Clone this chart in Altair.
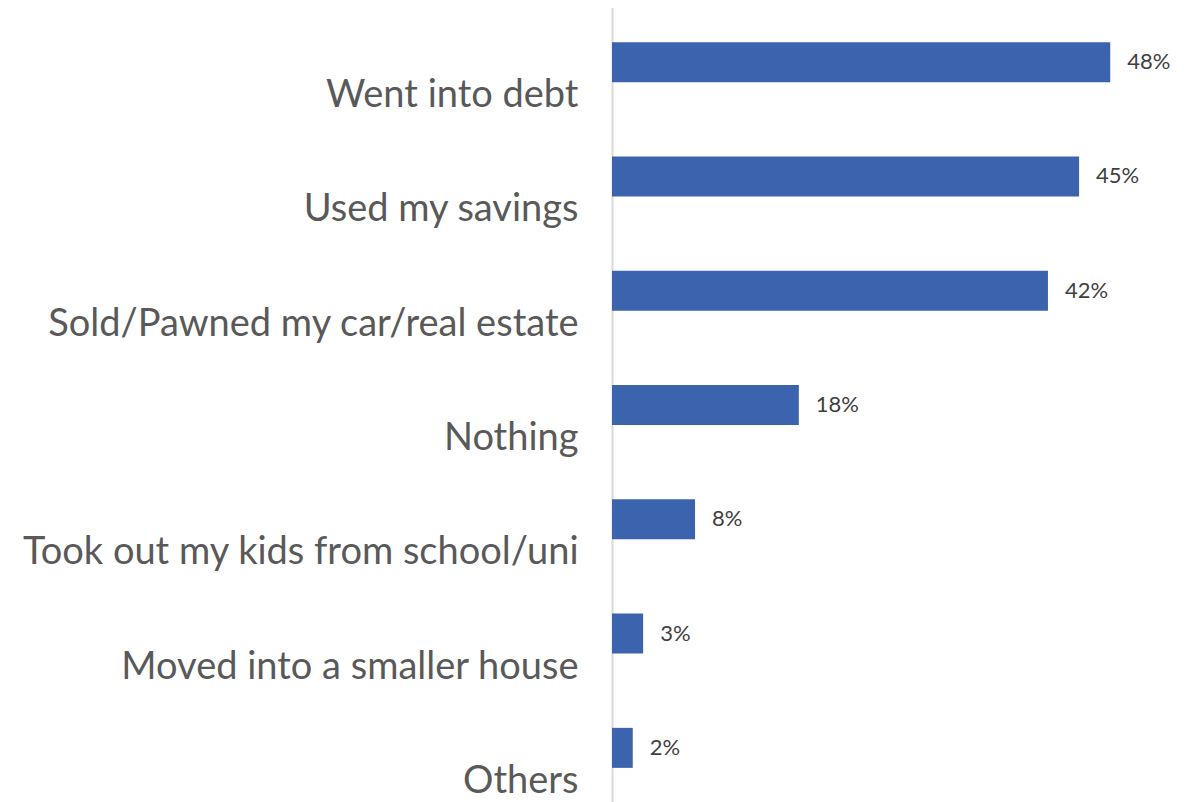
import altair as alt
import pandas as pd

categories = [
    "Went into debt",
    "Used my savings",
    "Sold/Pawned my car/real estate",
    "Nothing",
    "Took out my kids from school/uni",
    "Moved into a smaller house",
    "Others",
]
values = [48, 45, 42, 18, 8, 3, 2]
value_labels = ["48%", "45%", "42%", "18%", "8%", "3%", "2%"]

df = pd.DataFrame({"cat": categories, "val": values, "lab": value_labels})

y_enc = alt.Y(
    "cat:N",
    sort=categories,
    title=None,
    scale=alt.Scale(range=[-3, 797], paddingInner=0.65, paddingOuter=0.325),
    axis=alt.Axis(
        ticks=False,
        grid=False,
        domain=True,
        domainColor="#d9d9d9",
        domainWidth=2,
        labelFont="Lato",
        labelFontSize=38,
        labelColor="#595959",
        labelPadding=34,
        labelOffset=34,
        labelBaseline="middle",
        labelLimit=0,
    ),
)
x_enc = alt.X("val:Q", scale=alt.Scale(domain=[0, 50]), axis=None)

bars = alt.Chart(df).mark_bar(color="#3C63AE").encode(x=x_enc, y=y_enc)
text = alt.Chart(df).mark_text(
    align="left", baseline="middle", dx=17, font="Lato", fontSize=22, color="#404040"
).encode(x=x_enc, y=alt.Y("cat:N", sort=categories), text="lab:N")

chart = (
    alt.layer(bars, text)
    .properties(
        width=519,
        height=794,
        autosize=alt.AutoSizeParams(type="none"),
        padding={"left": 604, "top": 0, "right": 50, "bottom": 0},
    )
    .configure_view(stroke=None)
)

chart.save("out.html", embed_options={"renderer": "svg", "actions": False})
